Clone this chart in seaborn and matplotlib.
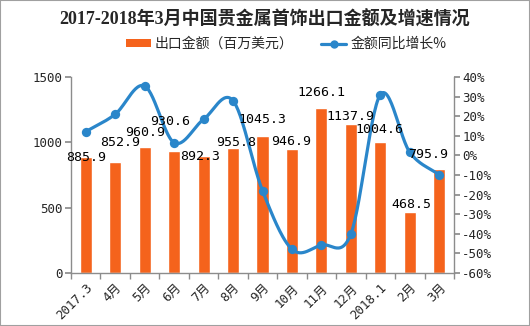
import numpy as np
import pandas as pd
import seaborn as sns
import matplotlib
matplotlib.use("Agg")
import matplotlib.pyplot as plt
from matplotlib.patches import Rectangle, Patch
from matplotlib.lines import Line2D

months = ['2017.3', '4月', '5月', '6月', '7月', '8月', '9月', '10月', '11月', '12月', '2018.1', '2月', '3月']
export_value = [885.9, 852.9, 960.9, 930.6, 892.3, 955.8, 1045.3, 946.9, 1266.1, 1137.9, 1004.6, 468.5, 795.9]
growth_pct = [12.1, 21.0, 35.4, 6.5, 18.4, 27.9, -18.0, -47.9, -45.7, -40.1, 31.0, 1.6, -10.0]
left_ticks = [0, 500, 1000, 1500]
right_ticks = list(range(-60, 41, 10))

title = '2017-2018年3月中国贵金属首饰出口金额及增速情况'
bar_name = '出口金额（百万美元）'
line_name = '金额同比增长%'

BAR_C = '#F5631C'
LINE_C = '#2A86CA'
GRAY = '#8C8C8C'
MONO = ['DejaVu Sans Mono', 'Noto Sans CJK SC']
CJK = ['Noto Sans CJK SC', 'DejaVu Sans']

sns.set_theme(style='white')
plt.rcParams['font.family'] = CJK

fig = plt.figure(figsize=(5.3, 3.26), dpi=100)
ax = fig.add_axes([71 / 530, 53 / 326, 383 / 530, 196 / 326])

df = pd.DataFrame({'month': months, 'value': export_value})
sns.barplot(data=df, x='month', y='value', color=BAR_C, saturation=1, width=0.41, ax=ax)
ax.set_xlim(-0.5, len(months) - 0.5)
ax.set_ylim(0, 1500)
ax.set_yticks(left_ticks)
ax.set_xlabel('')
ax.set_ylabel('')

ax2 = ax.twinx()
ax2.set_ylim(-60, 40)
ax2.set_yticks(right_ticks)
ax2.set_yticklabels([f'{t}%' for t in right_ticks])

# smooth (Catmull-Rom) curve through the data points
x = np.arange(len(growth_pct), dtype=float)
y = np.array(growth_pct, dtype=float)
px = np.concatenate([[2 * x[0] - x[1]], x, [2 * x[-1] - x[-2]]])
py = np.concatenate([[2 * y[0] - y[1]], y, [2 * y[-1] - y[-2]]])
sx, sy = [], []
t = np.linspace(0, 1, 30)
for i in range(1, len(px) - 2):
    p0, p1, p2, p3 = py[i - 1], py[i], py[i + 1], py[i + 2]
    q0, q1, q2, q3 = px[i - 1], px[i], px[i + 1], px[i + 2]
    f = lambda a, b, c, d: 0.5 * ((2 * b) + (-a + c) * t + (2 * a - 5 * b + 4 * c - d) * t ** 2 + (-a + 3 * b - 3 * c + d) * t ** 3)
    sx.extend(f(q0, q1, q2, q3))
    sy.extend(f(p0, p1, p2, p3))
ax2.plot(sx, sy, color=LINE_C, lw=2.3, solid_capstyle='round', zorder=3)
ldf = pd.DataFrame({'x': x, 'g': growth_pct})
sns.scatterplot(data=ldf, x='x', y='g', color=LINE_C, s=45, edgecolor=LINE_C, linewidth=0, ax=ax2, zorder=4)
ax2.set_xlabel('')
ax2.set_ylabel('')
ax2.set_xlim(-0.5, len(months) - 0.5)

# data labels
offsets = [(0, 0), (5, 19), (0, 15), (-4, 30), (-3, 0), (3, 6), (0, 17), (-1, 7.5), (0, 15), (0, 8), (-1, 12), (2, 7), (-11, 15)]
for i, v in enumerate(export_value):
    dx, dy = offsets[i]
    ax2.annotate(f'{v:.1f}', xy=(i, v), xycoords=ax.transData, xytext=(dx, dy),
                 textcoords='offset pixels', ha='center', va='center',
                 fontsize=9.5, family=MONO, color='black', zorder=6)

# axes styling
for a in (ax, ax2):
    a.spines['top'].set_visible(False)
    for s in ['left', 'right', 'bottom']:
        a.spines[s].set_color(GRAY)
        a.spines[s].set_linewidth(1)
ax.spines['right'].set_visible(False)
ax2.spines['left'].set_visible(False)
ax2.spines['bottom'].set_visible(False)

ax.tick_params(axis='y', which='both', left=True, length=4, color=GRAY, labelsize=9, pad=2)
ax2.tick_params(axis='y', which='both', right=True, length=4, color=GRAY, labelsize=9, pad=2)
for lab in ax.get_yticklabels() + ax2.get_yticklabels():
    lab.set_family(MONO)

ax.set_xticks(np.arange(len(months)))
ax.set_xticklabels(months, rotation=45, ha='right', rotation_mode='anchor', family=MONO, fontsize=9)
ax.set_xticks(np.arange(len(months) + 1) - 0.5, minor=True)
ax.tick_params(axis='x', which='major', length=0, pad=6)
ax.tick_params(axis='x', which='minor', bottom=True, length=4, color=GRAY)

# title and legend
fig.text(0.5, 1 - 20 / 326, title, ha='center', va='center', fontsize=13,
         fontweight='bold', family=['Liberation Serif', 'Noto Sans CJK SC'])
handles = [Patch(facecolor=BAR_C, edgecolor='none'),
           Line2D([0], [0], color=LINE_C, lw=2.3, marker='o', markersize=5)]
fig.legend(handles, [bar_name, line_name], ncol=2, loc='center',
           bbox_to_anchor=(0.54, 1 - 44 / 326), frameon=False, fontsize=10,
           handlelength=1.8, handleheight=0.5, columnspacing=2.0, handletextpad=0.3)

fig.patches.append(Rectangle((0, 0), 1, 1, transform=fig.transFigure, fill=False,
                             edgecolor='#A0A0A0', lw=1.5))

fig.savefig('out.png', dpi=100)
